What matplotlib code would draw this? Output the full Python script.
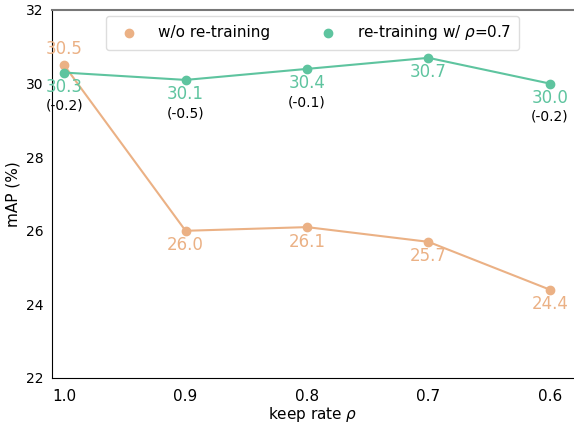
import matplotlib.pyplot as plt

rates = ['1.0', '0.9', '0.8', '0.7', '0.6']
wo_retrain = [30.5, 26.0, 26.1, 25.7, 24.4]
retrain = [30.3, 30.1, 30.4, 30.7, 30.0]
deltas = ['(-0.2)', '(-0.5)', '(-0.1)', '', '(-0.2)']

c_orange = '#ebb185'
c_green = '#5ec49f'

fig = plt.figure(figsize=(5.74, 4.26), dpi=100)
ax = fig.add_axes([52 / 574, 48 / 426, 521 / 574, 368 / 426])

x = list(range(len(rates)))
ax.plot(x, wo_retrain, color=c_orange, lw=1.5, zorder=2)
ax.scatter(x, wo_retrain, color=c_orange, s=36, zorder=3, label='w/o re-training')
ax.plot(x, retrain, color=c_green, lw=1.5, zorder=2)
ax.scatter(x, retrain, color=c_green, s=36, zorder=3, label=r're-training w/ $\rho$=0.7')

for i, v in enumerate(wo_retrain):
    if i == 0:
        ax.annotate(f'{v:.1f}', (i, v), xytext=(0, 5), textcoords='offset points',
                    ha='center', va='bottom', color=c_orange, fontsize=12)
    else:
        ax.annotate(f'{v:.1f}', (i, v), xytext=(0, -4), textcoords='offset points',
                    ha='center', va='top', color=c_orange, fontsize=12)

for i, v in enumerate(retrain):
    ax.annotate(f'{v:.1f}', (i, v), xytext=(0, -4), textcoords='offset points',
                ha='center', va='top', color=c_green, fontsize=12)
    if deltas[i]:
        ax.annotate(deltas[i], (i, v), xytext=(0, -19), textcoords='offset points',
                    ha='center', va='top', color='black', fontsize=10)

ax.set_xticks(x)
ax.set_xticklabels(rates)
ax.set_xlim(-0.1, 4.19)
ax.set_ylim(22, 32)
ax.set_yticks([22, 24, 26, 28, 30, 32])
ax.tick_params(length=0, labelsize=11, pad=8)
ax.tick_params(axis='y', labelsize=10, pad=6)
ax.set_xlabel(r'keep rate $\rho$', fontsize=11, labelpad=1)
ax.set_ylabel('mAP (%)', fontsize=11)

ax.spines['right'].set_visible(False)
ax.spines['top'].set_color('#777777')
ax.spines['top'].set_linewidth(1.5)

ax.legend(loc='upper center', ncol=2, fontsize=11, bbox_to_anchor=(0.5, 1.005),
          columnspacing=2.8, handletextpad=0.9, borderpad=0.5,
          framealpha=1, edgecolor='#dddddd')

fig.savefig('out.png', dpi=100)
